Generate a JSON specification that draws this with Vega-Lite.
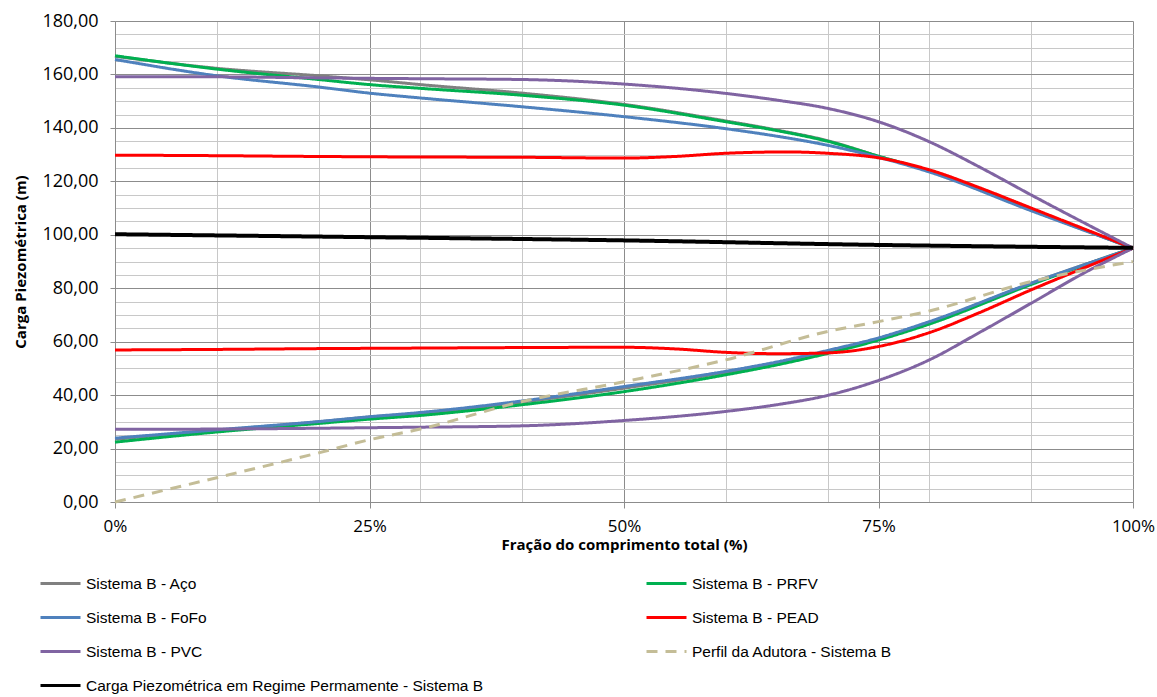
{
  "$schema": "https://vega.github.io/schema/vega-lite/v6.json",
  "autosize": "none",
  "width": 1018,
  "height": 481,
  "padding": {"left": 115, "top": 21, "right": 24, "bottom": 195},
  "background": "white",
  "config": {"view": {"stroke": null}},
  "data": {"values": [
    {"series": "Sistema B - Aço", "branch": "max", "x": 0, "y": 166.8},
    {"series": "Sistema B - Aço", "branch": "max", "x": 10, "y": 162.3},
    {"series": "Sistema B - Aço", "branch": "max", "x": 20, "y": 159.5},
    {"series": "Sistema B - Aço", "branch": "max", "x": 25, "y": 158.0},
    {"series": "Sistema B - Aço", "branch": "max", "x": 30, "y": 156.2},
    {"series": "Sistema B - Aço", "branch": "max", "x": 40, "y": 153.0},
    {"series": "Sistema B - Aço", "branch": "max", "x": 50, "y": 148.8},
    {"series": "Sistema B - Aço", "branch": "max", "x": 60, "y": 142.6},
    {"series": "Sistema B - Aço", "branch": "max", "x": 65, "y": 139.2},
    {"series": "Sistema B - Aço", "branch": "max", "x": 70, "y": 135.2},
    {"series": "Sistema B - Aço", "branch": "max", "x": 75, "y": 129.4},
    {"series": "Sistema B - Aço", "branch": "max", "x": 80, "y": 123.9},
    {"series": "Sistema B - Aço", "branch": "max", "x": 90, "y": 109.4},
    {"series": "Sistema B - Aço", "branch": "max", "x": 100, "y": 95.0},
    {"series": "Sistema B - Aço", "branch": "min", "x": 0, "y": 23.5},
    {"series": "Sistema B - Aço", "branch": "min", "x": 10, "y": 26.8},
    {"series": "Sistema B - Aço", "branch": "min", "x": 20, "y": 30.0},
    {"series": "Sistema B - Aço", "branch": "min", "x": 25, "y": 31.8},
    {"series": "Sistema B - Aço", "branch": "min", "x": 30, "y": 33.2},
    {"series": "Sistema B - Aço", "branch": "min", "x": 40, "y": 37.4},
    {"series": "Sistema B - Aço", "branch": "min", "x": 50, "y": 42.6},
    {"series": "Sistema B - Aço", "branch": "min", "x": 60, "y": 48.5},
    {"series": "Sistema B - Aço", "branch": "min", "x": 65, "y": 52.0},
    {"series": "Sistema B - Aço", "branch": "min", "x": 70, "y": 56.3},
    {"series": "Sistema B - Aço", "branch": "min", "x": 75, "y": 61.0},
    {"series": "Sistema B - Aço", "branch": "min", "x": 80, "y": 67.2},
    {"series": "Sistema B - Aço", "branch": "min", "x": 90, "y": 81.8},
    {"series": "Sistema B - Aço", "branch": "min", "x": 100, "y": 95.0},

    {"series": "Sistema B - PRFV", "branch": "max", "x": 0, "y": 167.0},
    {"series": "Sistema B - PRFV", "branch": "max", "x": 10, "y": 162.0},
    {"series": "Sistema B - PRFV", "branch": "max", "x": 20, "y": 158.1},
    {"series": "Sistema B - PRFV", "branch": "max", "x": 25, "y": 156.2},
    {"series": "Sistema B - PRFV", "branch": "max", "x": 30, "y": 154.8},
    {"series": "Sistema B - PRFV", "branch": "max", "x": 40, "y": 152.2},
    {"series": "Sistema B - PRFV", "branch": "max", "x": 50, "y": 148.5},
    {"series": "Sistema B - PRFV", "branch": "max", "x": 60, "y": 142.3},
    {"series": "Sistema B - PRFV", "branch": "max", "x": 65, "y": 139.0},
    {"series": "Sistema B - PRFV", "branch": "max", "x": 70, "y": 135.0},
    {"series": "Sistema B - PRFV", "branch": "max", "x": 75, "y": 129.4},
    {"series": "Sistema B - PRFV", "branch": "max", "x": 80, "y": 123.8},
    {"series": "Sistema B - PRFV", "branch": "max", "x": 90, "y": 109.3},
    {"series": "Sistema B - PRFV", "branch": "max", "x": 100, "y": 95.0},
    {"series": "Sistema B - PRFV", "branch": "min", "x": 0, "y": 22.4},
    {"series": "Sistema B - PRFV", "branch": "min", "x": 10, "y": 26.2},
    {"series": "Sistema B - PRFV", "branch": "min", "x": 20, "y": 29.4},
    {"series": "Sistema B - PRFV", "branch": "min", "x": 25, "y": 31.0},
    {"series": "Sistema B - PRFV", "branch": "min", "x": 30, "y": 32.4},
    {"series": "Sistema B - PRFV", "branch": "min", "x": 40, "y": 36.4},
    {"series": "Sistema B - PRFV", "branch": "min", "x": 50, "y": 41.3},
    {"series": "Sistema B - PRFV", "branch": "min", "x": 60, "y": 47.6},
    {"series": "Sistema B - PRFV", "branch": "min", "x": 65, "y": 51.3},
    {"series": "Sistema B - PRFV", "branch": "min", "x": 70, "y": 55.6},
    {"series": "Sistema B - PRFV", "branch": "min", "x": 75, "y": 60.6},
    {"series": "Sistema B - PRFV", "branch": "min", "x": 80, "y": 66.6},
    {"series": "Sistema B - PRFV", "branch": "min", "x": 90, "y": 81.4},
    {"series": "Sistema B - PRFV", "branch": "min", "x": 100, "y": 95.0},

    {"series": "Sistema B - FoFo", "branch": "max", "x": 0, "y": 165.6},
    {"series": "Sistema B - FoFo", "branch": "max", "x": 10, "y": 159.5},
    {"series": "Sistema B - FoFo", "branch": "max", "x": 20, "y": 155.3},
    {"series": "Sistema B - FoFo", "branch": "max", "x": 25, "y": 153.0},
    {"series": "Sistema B - FoFo", "branch": "max", "x": 30, "y": 151.2},
    {"series": "Sistema B - FoFo", "branch": "max", "x": 40, "y": 147.9},
    {"series": "Sistema B - FoFo", "branch": "max", "x": 50, "y": 144.2},
    {"series": "Sistema B - FoFo", "branch": "max", "x": 60, "y": 139.7},
    {"series": "Sistema B - FoFo", "branch": "max", "x": 65, "y": 136.9},
    {"series": "Sistema B - FoFo", "branch": "max", "x": 70, "y": 133.5},
    {"series": "Sistema B - FoFo", "branch": "max", "x": 75, "y": 129.0},
    {"series": "Sistema B - FoFo", "branch": "max", "x": 80, "y": 123.5},
    {"series": "Sistema B - FoFo", "branch": "max", "x": 90, "y": 109.0},
    {"series": "Sistema B - FoFo", "branch": "max", "x": 100, "y": 95.0},
    {"series": "Sistema B - FoFo", "branch": "min", "x": 0, "y": 23.9},
    {"series": "Sistema B - FoFo", "branch": "min", "x": 10, "y": 27.0},
    {"series": "Sistema B - FoFo", "branch": "min", "x": 20, "y": 30.1},
    {"series": "Sistema B - FoFo", "branch": "min", "x": 25, "y": 31.9},
    {"series": "Sistema B - FoFo", "branch": "min", "x": 30, "y": 33.5},
    {"series": "Sistema B - FoFo", "branch": "min", "x": 40, "y": 37.8},
    {"series": "Sistema B - FoFo", "branch": "min", "x": 50, "y": 43.2},
    {"series": "Sistema B - FoFo", "branch": "min", "x": 60, "y": 48.9},
    {"series": "Sistema B - FoFo", "branch": "min", "x": 65, "y": 52.4},
    {"series": "Sistema B - FoFo", "branch": "min", "x": 70, "y": 56.7},
    {"series": "Sistema B - FoFo", "branch": "min", "x": 75, "y": 61.4},
    {"series": "Sistema B - FoFo", "branch": "min", "x": 80, "y": 67.5},
    {"series": "Sistema B - FoFo", "branch": "min", "x": 90, "y": 81.9},
    {"series": "Sistema B - FoFo", "branch": "min", "x": 95, "y": 88.5},
    {"series": "Sistema B - FoFo", "branch": "min", "x": 100, "y": 95.0},

    {"series": "Sistema B - PEAD", "branch": "max", "x": 0, "y": 129.8},
    {"series": "Sistema B - PEAD", "branch": "max", "x": 10, "y": 129.6},
    {"series": "Sistema B - PEAD", "branch": "max", "x": 20, "y": 129.3},
    {"series": "Sistema B - PEAD", "branch": "max", "x": 30, "y": 129.1},
    {"series": "Sistema B - PEAD", "branch": "max", "x": 40, "y": 129.0},
    {"series": "Sistema B - PEAD", "branch": "max", "x": 50, "y": 128.7},
    {"series": "Sistema B - PEAD", "branch": "max", "x": 55, "y": 129.3},
    {"series": "Sistema B - PEAD", "branch": "max", "x": 60, "y": 130.5},
    {"series": "Sistema B - PEAD", "branch": "max", "x": 66, "y": 131.0},
    {"series": "Sistema B - PEAD", "branch": "max", "x": 70, "y": 130.5},
    {"series": "Sistema B - PEAD", "branch": "max", "x": 75, "y": 128.8},
    {"series": "Sistema B - PEAD", "branch": "max", "x": 80, "y": 124.3},
    {"series": "Sistema B - PEAD", "branch": "max", "x": 85, "y": 117.5},
    {"series": "Sistema B - PEAD", "branch": "max", "x": 90, "y": 110.0},
    {"series": "Sistema B - PEAD", "branch": "max", "x": 100, "y": 95.0},
    {"series": "Sistema B - PEAD", "branch": "min", "x": 0, "y": 56.9},
    {"series": "Sistema B - PEAD", "branch": "min", "x": 10, "y": 57.1},
    {"series": "Sistema B - PEAD", "branch": "min", "x": 20, "y": 57.4},
    {"series": "Sistema B - PEAD", "branch": "min", "x": 30, "y": 57.6},
    {"series": "Sistema B - PEAD", "branch": "min", "x": 40, "y": 57.8},
    {"series": "Sistema B - PEAD", "branch": "min", "x": 50, "y": 57.9},
    {"series": "Sistema B - PEAD", "branch": "min", "x": 55, "y": 57.3},
    {"series": "Sistema B - PEAD", "branch": "min", "x": 60, "y": 56.0},
    {"series": "Sistema B - PEAD", "branch": "min", "x": 65, "y": 55.5},
    {"series": "Sistema B - PEAD", "branch": "min", "x": 70, "y": 55.8},
    {"series": "Sistema B - PEAD", "branch": "min", "x": 75, "y": 58.2},
    {"series": "Sistema B - PEAD", "branch": "min", "x": 80, "y": 63.4},
    {"series": "Sistema B - PEAD", "branch": "min", "x": 85, "y": 71.0},
    {"series": "Sistema B - PEAD", "branch": "min", "x": 90, "y": 79.4},
    {"series": "Sistema B - PEAD", "branch": "min", "x": 95, "y": 87.3},
    {"series": "Sistema B - PEAD", "branch": "min", "x": 100, "y": 95.0},

    {"series": "Sistema B - PVC", "branch": "max", "x": 0, "y": 159.1},
    {"series": "Sistema B - PVC", "branch": "max", "x": 10, "y": 159.1},
    {"series": "Sistema B - PVC", "branch": "max", "x": 20, "y": 158.7},
    {"series": "Sistema B - PVC", "branch": "max", "x": 30, "y": 158.4},
    {"series": "Sistema B - PVC", "branch": "max", "x": 40, "y": 158.1},
    {"series": "Sistema B - PVC", "branch": "max", "x": 50, "y": 156.4},
    {"series": "Sistema B - PVC", "branch": "max", "x": 60, "y": 152.9},
    {"series": "Sistema B - PVC", "branch": "max", "x": 65, "y": 150.4},
    {"series": "Sistema B - PVC", "branch": "max", "x": 70, "y": 147.3},
    {"series": "Sistema B - PVC", "branch": "max", "x": 75, "y": 142.3},
    {"series": "Sistema B - PVC", "branch": "max", "x": 80, "y": 134.8},
    {"series": "Sistema B - PVC", "branch": "max", "x": 85, "y": 125.2},
    {"series": "Sistema B - PVC", "branch": "max", "x": 90, "y": 114.9},
    {"series": "Sistema B - PVC", "branch": "max", "x": 100, "y": 95.0},
    {"series": "Sistema B - PVC", "branch": "min", "x": 0, "y": 27.2},
    {"series": "Sistema B - PVC", "branch": "min", "x": 10, "y": 27.3},
    {"series": "Sistema B - PVC", "branch": "min", "x": 20, "y": 27.6},
    {"series": "Sistema B - PVC", "branch": "min", "x": 25, "y": 27.8},
    {"series": "Sistema B - PVC", "branch": "min", "x": 30, "y": 28.0},
    {"series": "Sistema B - PVC", "branch": "min", "x": 40, "y": 28.5},
    {"series": "Sistema B - PVC", "branch": "min", "x": 50, "y": 30.5},
    {"series": "Sistema B - PVC", "branch": "min", "x": 60, "y": 33.9},
    {"series": "Sistema B - PVC", "branch": "min", "x": 65, "y": 36.4},
    {"series": "Sistema B - PVC", "branch": "min", "x": 70, "y": 39.9},
    {"series": "Sistema B - PVC", "branch": "min", "x": 75, "y": 45.5},
    {"series": "Sistema B - PVC", "branch": "min", "x": 80, "y": 53.2},
    {"series": "Sistema B - PVC", "branch": "min", "x": 85, "y": 63.6},
    {"series": "Sistema B - PVC", "branch": "min", "x": 90, "y": 74.4},
    {"series": "Sistema B - PVC", "branch": "min", "x": 95, "y": 85.3},
    {"series": "Sistema B - PVC", "branch": "min", "x": 100, "y": 95.0},

    {"series": "Perfil da Adutora - Sistema B", "branch": "profile", "x": 0, "y": 0.0},
    {"series": "Perfil da Adutora - Sistema B", "branch": "profile", "x": 10, "y": 9.1},
    {"series": "Perfil da Adutora - Sistema B", "branch": "profile", "x": 20, "y": 18.4},
    {"series": "Perfil da Adutora - Sistema B", "branch": "profile", "x": 25, "y": 23.3},
    {"series": "Perfil da Adutora - Sistema B", "branch": "profile", "x": 30, "y": 27.3},
    {"series": "Perfil da Adutora - Sistema B", "branch": "profile", "x": 40, "y": 37.6},
    {"series": "Perfil da Adutora - Sistema B", "branch": "profile", "x": 50, "y": 45.0},
    {"series": "Perfil da Adutora - Sistema B", "branch": "profile", "x": 60, "y": 53.2},
    {"series": "Perfil da Adutora - Sistema B", "branch": "profile", "x": 70, "y": 63.8},
    {"series": "Perfil da Adutora - Sistema B", "branch": "profile", "x": 75, "y": 67.5},
    {"series": "Perfil da Adutora - Sistema B", "branch": "profile", "x": 80, "y": 71.5},
    {"series": "Perfil da Adutora - Sistema B", "branch": "profile", "x": 90, "y": 82.5},
    {"series": "Perfil da Adutora - Sistema B", "branch": "profile", "x": 100, "y": 90.0},

    {"series": "Carga Piezométrica em Regime Permamente - Sistema B", "branch": "steady", "x": 0, "y": 100.2},
    {"series": "Carga Piezométrica em Regime Permamente - Sistema B", "branch": "steady", "x": 25, "y": 99.1},
    {"series": "Carga Piezométrica em Regime Permamente - Sistema B", "branch": "steady", "x": 50, "y": 97.9},
    {"series": "Carga Piezométrica em Regime Permamente - Sistema B", "branch": "steady", "x": 75, "y": 96.2},
    {"series": "Carga Piezométrica em Regime Permamente - Sistema B", "branch": "steady", "x": 90, "y": 95.5},
    {"series": "Carga Piezométrica em Regime Permamente - Sistema B", "branch": "steady", "x": 100, "y": 95.1}
  ]},
  "encoding": {
    "x": {
      "field": "x", "type": "quantitative",
      "scale": {"domain": [0, 100], "nice": false, "zero": false},
      "axis": {
        "values": [0, 10, 20, 25, 30, 40, 50, 60, 70, 75, 80, 90, 100],
        "labelExpr": "datum.value % 25 === 0 ? datum.value + '%' : ''",
        "labelOverlap": false, "labelFlush": false,
        "labelFont": "Open Sans", "labelFontSize": 17, "labelColor": "#000000", "labelPadding": 10,
        "grid": true,
        "gridColor": {"condition": {"test": "datum.value % 25 === 0", "value": "#8c8c8c"}, "value": "#c8c8c8"},
        "gridWidth": 1,
        "tickColor": {"condition": {"test": "datum.value % 25 === 0", "value": "#8c8c8c"}, "value": "transparent"},
        "tickSize": 6,
        "domainColor": "#8c8c8c",
        "title": "Fração do comprimento total (%)",
        "titleFont": "Open Sans", "titleFontSize": 15, "titleFontWeight": "bold", "titleColor": "#000000",
        "titlePadding": 3
      }
    },
    "y": {
      "field": "y", "type": "quantitative",
      "scale": {"domain": [0, 180], "nice": false},
      "axis": {
        "values": [0,5,10,15,20,25,30,35,40,45,50,55,60,65,70,75,80,85,90,95,100,105,110,115,120,125,130,135,140,145,150,155,160,165,170,175,180],
        "labelExpr": "datum.value % 20 === 0 ? replace(format(datum.value, '.2f'), '.', ',') : ''",
        "labelOverlap": false, "labelFlush": false,
        "labelFont": "Open Sans", "labelFontSize": 18, "labelColor": "#000000", "labelPadding": 12,
        "grid": true,
        "gridColor": {"condition": {"test": "datum.value % 20 === 0", "value": "#8c8c8c"}, "value": "#c8c8c8"},
        "gridWidth": 1,
        "tickColor": {"condition": {"test": "datum.value % 20 === 0", "value": "#8c8c8c"}, "value": "transparent"},
        "tickSize": 5,
        "domainColor": "#8c8c8c",
        "title": "Carga Piezométrica (m)",
        "titleFont": "Open Sans", "titleFontSize": 15, "titleFontWeight": "bold", "titleColor": "#000000",
        "titlePadding": 13
      }
    },
    "color": {
      "field": "series", "type": "nominal",
      "scale": {
        "domain": ["Sistema B - Aço", "Sistema B - FoFo", "Sistema B - PVC", "Carga Piezométrica em Regime Permamente - Sistema B", "Sistema B - PRFV", "Sistema B - PEAD", "Perfil da Adutora - Sistema B"],
        "range": ["#808080", "#4F81BD", "#8064A2", "#000000", "#00B050", "#FF0000", "#C4BD97"]
      },
      "legend": {
        "title": null, "orient": "none", "legendX": -76, "legendY": 541, "columns": 2,
        "columnPadding": 156, "rowPadding": 4, "padding": 0,
        "symbolType": "stroke", "symbolSize": 1600, "symbolStrokeWidth": 3, "symbolOffset": 0,
        "labelFont": "Liberation Sans Narrow, Arial Narrow, Liberation Sans", "labelFontSize": 15.5, "labelColor": "#000000", "labelOffset": 4,
        "labelLimit": 600
      }
    },
    "strokeDash": {
      "field": "series", "type": "nominal",
      "scale": {
        "domain": ["Sistema B - Aço", "Sistema B - FoFo", "Sistema B - PVC", "Carga Piezométrica em Regime Permamente - Sistema B", "Sistema B - PRFV", "Sistema B - PEAD", "Perfil da Adutora - Sistema B"],
        "range": [[1, 0], [1, 0], [1, 0], [1, 0], [1, 0], [1, 0], [11, 8]]
      }
    },
    "detail": {"field": "branch", "type": "nominal"}
  },
  "layer": [
    {
      "transform": [{"filter": "datum.branch !== 'steady'"}],
      "mark": {"type": "line", "interpolate": "monotone", "strokeWidth": 3}
    },
    {
      "transform": [{"filter": "datum.branch === 'steady'"}],
      "mark": {"type": "line", "interpolate": "monotone", "strokeWidth": 4}
    }
  ]
}
